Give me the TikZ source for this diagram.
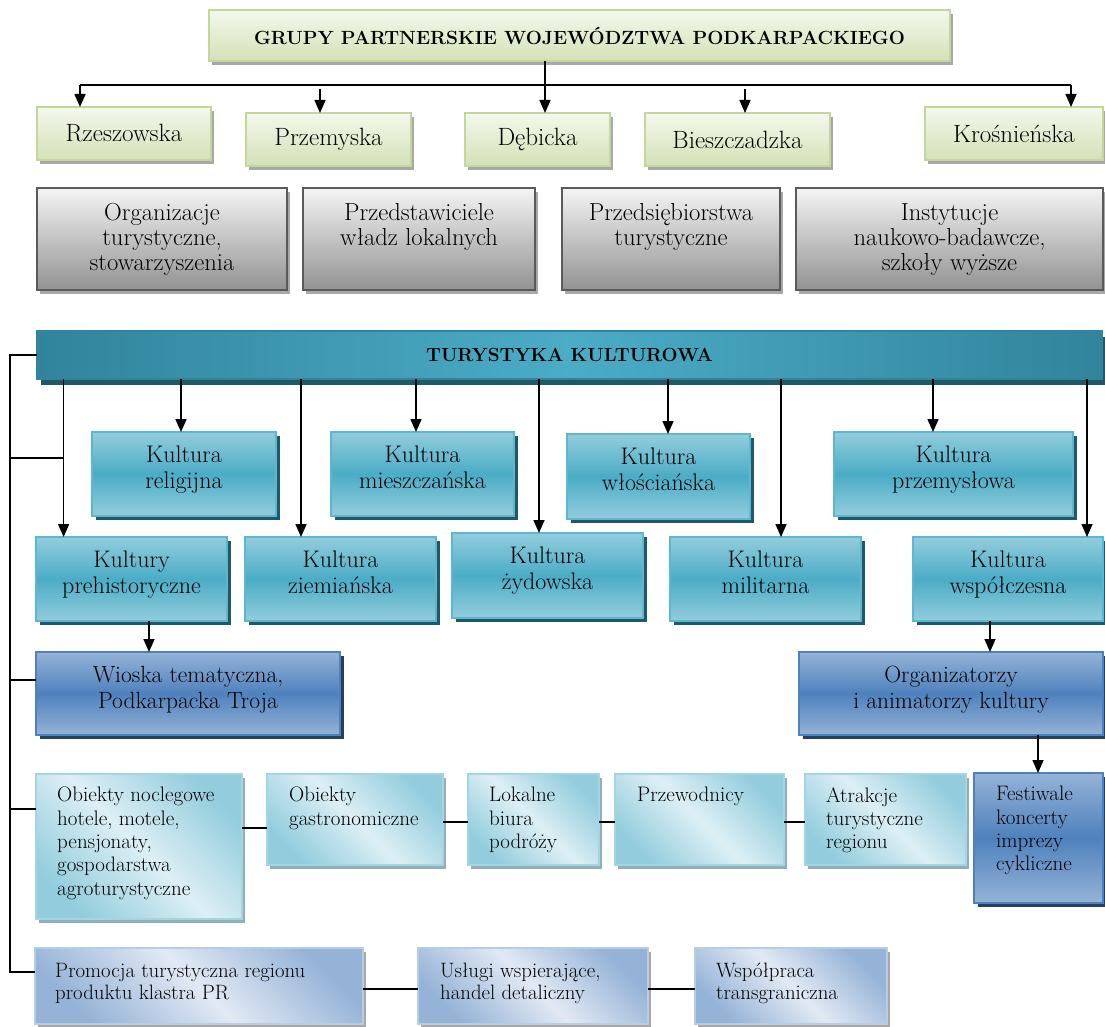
\documentclass[tikz,border=0pt]{standalone}
\usetikzlibrary{shadows,arrows.meta}
\definecolor{grnB}{HTML}{C3D69B}
\definecolor{grnT}{HTML}{F4F8EC}
\definecolor{grnD}{HTML}{D3E1B6}
\definecolor{gryB}{HTML}{5A5A5A}
\definecolor{gryT}{HTML}{F4F4F4}
\definecolor{gryD}{HTML}{929292}
\definecolor{hatch}{HTML}{A8A8A8}
\definecolor{tealL}{HTML}{93CDDD}
\definecolor{tealM}{HTML}{4BACC6}
\definecolor{tealB}{HTML}{5DB7D0}
\definecolor{tealS}{HTML}{215868}
\definecolor{tealK}{HTML}{31849B}
\definecolor{bluL}{HTML}{95B3D7}
\definecolor{bluM}{HTML}{4F81BD}
\definecolor{bluS}{HTML}{243F60}
\definecolor{cyD}{HTML}{93CDDD}
\definecolor{cyL}{HTML}{DDEFF5}
\definecolor{cyB}{HTML}{A5D5E2}
\definecolor{cyS}{HTML}{8FB0B8}
\definecolor{lvD}{HTML}{95B3D7}
\definecolor{lvL}{HTML}{E2E9F4}
\definecolor{lvB}{HTML}{B8CCE4}
\begin{document}
\begin{tikzpicture}[x=1pt,y=1pt,
  box/.style={rectangle, inner sep=0pt, outer sep=0pt, line width=1.5pt},
  grp/.style={box, line width=2pt, draw=grnB, top color=grnT, bottom color=grnD,
    drop shadow={shadow xshift=3pt, shadow yshift=-4pt, fill=hatch, opacity=1},
    font=\fontsize{25}{29}\selectfont},
  gbox/.style={box, line width=2.2pt, draw=gryB, top color=gryT, bottom color=gryD,
    drop shadow={shadow xshift=3pt, shadow yshift=-4pt, fill=hatch, opacity=1}},
  gtxt/.style={anchor=north, align=center, inner sep=0pt, font=\fontsize{24.6}{25}\selectfont},
  banner/.style={box, draw=tealK, left color=tealK, right color=tealK, middle color=tealM,
    drop shadow={shadow xshift=4pt, shadow yshift=-6pt, fill=tealS, opacity=1},
    font=\bfseries\fontsize{19}{22}\selectfont},
  tbox/.style={box, draw=tealB, top color=tealL, bottom color=tealL, middle color=tealM,
    drop shadow={shadow xshift=4pt, shadow yshift=-4pt, fill=tealS, opacity=1}},
  ttxt/.style={anchor=north, align=center, inner sep=0pt, font=\fontsize{24}{26}\selectfont},
  bbox/.style={box, draw=bluM, top color=bluL, bottom color=bluL, middle color=bluM,
    drop shadow={shadow xshift=4pt, shadow yshift=-4pt, fill=bluS, opacity=1}},
  btxt/.style={anchor=north, align=center, inner sep=0pt, font=\fontsize{23.5}{26}\selectfont},
  cbox/.style={box, draw=cyB, top color=cyD, bottom color=cyD, middle color=cyL, shading angle=-45,
    drop shadow={shadow xshift=3pt, shadow yshift=-4pt, fill=cyS, opacity=1}},
  lbox/.style={box, draw=lvB, top color=lvD, bottom color=lvD, middle color=lvL, shading angle=-45,
    drop shadow={shadow xshift=3pt, shadow yshift=-4pt, fill=hatch, opacity=1}},
  ctxt/.style={anchor=north west, align=left, inner sep=0pt, font=\fontsize{21}{23.3}\selectfont},
  ltxt/.style={anchor=north west, align=left, inner sep=0pt, font=\fontsize{20.8}{22}\selectfont},
  conn/.style={line width=1.6pt, black},
  arr/.style={line width=1.6pt, black, -{Triangle[length=13pt,width=11pt]}}
]
\useasboundingbox (0,0) rectangle (1105,-1027);

% ---- top section
\node[grp, minimum width=741, minimum height=51, font=\bfseries\fontsize{19.1}{22}\selectfont] (title) at (579.5,-35.5) {GRUPY PARTNERSKIE WOJEWÓDZTWA PODKARPACKIEGO};
\node[grp, minimum width=174, minimum height=53] (rze) at (124,-133.5) {Rzeszowska};
\node[grp, minimum width=165, minimum height=53] (prz) at (328.5,-139.5) {Przemyska};
\node[grp, minimum width=145, minimum height=53] (deb) at (537.5,-139.5) {Dębicka};
\node[grp, minimum width=185, minimum height=53] (bie) at (737.5,-139.5) {Bieszczadzka};
\node[grp, minimum width=178, minimum height=53] (kro) at (1014,-133.5) {Krośnieńska};

\node[gbox, minimum width=250, minimum height=102] (org) at (162,-239) {};
\node[gbox, minimum width=232, minimum height=102] (prd) at (419,-239) {};
\node[gbox, minimum width=218, minimum height=102] (prs) at (671,-239) {};
\node[gbox, minimum width=307, minimum height=102] (ins) at (949.5,-239) {};
\node[gtxt] (orgT) at ([yshift=-15.5pt]org.north) {Organizacje\\turystyczne,\\stowarzyszenia};
\node[gtxt] (prdT) at ([yshift=-15.5pt]prd.north) {Przedstawiciele\\władz lokalnych};
\node[gtxt] (prsT) at ([yshift=-15.5pt]prs.north) {Przedsiębiorstwa\\turystyczne};
\node[gtxt] (insT) at ([yshift=-15.5pt]ins.north) {Instytucje\\naukowo-badawcze,\\szkoły wyższe};

\coordinate (tj) at (545,-85);
\coordinate (bl) at (80,-85);
\coordinate (br) at (1071,-85);
\coordinate (pa) at (320,-89);
\coordinate (ba) at (745,-89);
\draw[conn] (title.south -| tj) -- (tj);
\draw[conn] (bl) -- (br);
\draw[arr] (bl) -- (bl |- rze.north);
\draw[arr] (tj) -- (tj |- deb.north);
\draw[arr] (br) -- (br |- kro.north);
\draw[arr] (pa) -- (pa |- prz.north);
\draw[arr] (ba) -- (ba |- bie.north);

% ---- cultural tourism
\node[banner, minimum width=1065, minimum height=48] (bann) at (569.5,-355) {TURYSTYKA KULTUROWA};

\node[tbox, minimum width=184, minimum height=84] (rel) at (184,-474) {};
\node[tbox, minimum width=183, minimum height=84] (mie) at (422.5,-474) {};
\node[tbox, minimum width=183, minimum height=85] (wlo) at (658.5,-476.5) {};
\node[tbox, minimum width=239, minimum height=84] (prm) at (953.5,-474) {};
\node[tbox, minimum width=191, minimum height=84] (pre) at (131.5,-579) {};
\node[tbox, minimum width=191, minimum height=84] (zie) at (340.5,-579) {};
\node[tbox, minimum width=191, minimum height=85] (zyd) at (547.5,-575.5) {};
\node[tbox, minimum width=191, minimum height=84] (mil) at (765.5,-579) {};
\node[tbox, minimum width=190, minimum height=84] (wsp) at (1008,-579) {};
\node[ttxt] (relT) at ([yshift=-13.5pt]rel.north) {Kultura\\religijna};
\node[ttxt] (mieT) at ([yshift=-13.5pt]mie.north) {Kultura\\mieszczańska};
\node[ttxt] (wloT) at ([yshift=-13.5pt]wlo.north) {Kultura\\włościańska};
\node[ttxt] (prmT) at ([yshift=-13.5pt]prm.north) {Kultura\\przemysłowa};
\node[ttxt] (preT) at ([yshift=-13.5pt]pre.north) {Kultury\\prehistoryczne};
\node[ttxt] (zieT) at ([yshift=-13.5pt]zie.north) {Kultura\\ziemiańska};
\node[ttxt] (zydT) at ([yshift=-13.5pt]zyd.north) {Kultura\\żydowska};
\node[ttxt] (milT) at ([yshift=-13.5pt]mil.north) {Kultura\\militarna};
\node[ttxt] (wspT) at ([yshift=-13.5pt]wsp.north) {Kultura\\współczesna};

\node[bbox, minimum width=304, minimum height=83] (wio) at (188,-693.5) {};
\node[bbox, minimum width=304, minimum height=83] (ani) at (951,-693.5) {};
\node[btxt] (wioT) at ([yshift=-14pt]wio.north) {Wioska tematyczna,\\Podkarpacka Troja};
\node[btxt] (aniT) at ([yshift=-14pt]ani.north) {Organizatorzy\\i animatorzy kultury};
\node[bbox, minimum width=129, minimum height=130] (fes) at (1038.5,-838) {};
\node[ctxt] (fesT) at ([xshift=22pt,yshift=-13pt]fes.north west) {Festiwale\\koncerty\\imprezy\\cykliczne};

\coordinate (k1) at (63.6,0);
\coordinate (k2) at (181,0);
\coordinate (k3) at (301,0);
\coordinate (k4) at (416,0);
\coordinate (k5) at (539,0);
\coordinate (k6) at (668,0);
\coordinate (k7) at (781,0);
\coordinate (k8) at (933,0);
\coordinate (k9) at (1087,0);
\coordinate (k10) at (149,0);
\coordinate (k11) at (990,0);
\coordinate (k12) at (1038,0);
\draw[arr] (bann.south -| k1) -- (pre.north -| k1);
\draw[arr] (bann.south -| k2) -- (rel.north -| k2);
\draw[arr] (bann.south -| k3) -- (zie.north -| k3);
\draw[arr] (bann.south -| k4) -- (mie.north -| k4);
\draw[arr] (bann.south -| k5) -- (zyd.north -| k5);
\draw[arr] (bann.south -| k6) -- (wlo.north -| k6);
\draw[arr] (bann.south -| k7) -- (mil.north -| k7);
\draw[arr] (bann.south -| k8) -- (prm.north -| k8);
\draw[arr] (bann.south -| k9) -- (wsp.north -| k9);
\draw[arr] (pre.south -| k10) -- (wio.north -| k10);
\draw[arr] (wsp.south -| k11) -- (ani.north -| k11);
\draw[arr] (ani.south -| k12) -- (fes.north -| k12);

% ---- services row
\node[cbox, minimum width=206, minimum height=145] (obn) at (139,-846.5) {};
\node[cbox, minimum width=176, minimum height=91] (gas) at (355,-819.5) {};
\node[cbox, minimum width=131, minimum height=91] (lok) at (533.5,-819.5) {};
\node[cbox, minimum width=169, minimum height=91] (prw) at (699.5,-819.5) {};
\node[cbox, minimum width=161, minimum height=91] (atr) at (885.5,-819.5) {};
\node[ctxt] (obnT) at ([xshift=21pt,yshift=-13pt]obn.north west) {Obiekty noclegowe\\hotele, motele,\\pensjonaty,\\gospodarstwa\\agroturystyczne};
\node[ctxt] (gasT) at ([xshift=22pt,yshift=-13pt]gas.north west) {Obiekty\\gastronomiczne};
\node[ctxt] (lokT) at ([xshift=21pt,yshift=-13pt]lok.north west) {Lokalne\\biura\\podróży};
\node[ctxt] (prwT) at ([xshift=22pt,yshift=-13pt]prw.north west) {Przewodnicy};
\node[ctxt] (atrT) at ([xshift=21pt,yshift=-13pt]atr.north west) {Atrakcje\\turystyczne\\regionu};

\node[lbox, minimum width=328, minimum height=76] (pro) at (199,-986) {};
\node[lbox, minimum width=230, minimum height=76] (usl) at (533,-986) {};
\node[lbox, minimum width=192, minimum height=76] (wpr) at (791,-986) {};
\node[ltxt] (proT) at ([xshift=20pt,yshift=-15pt]pro.north west) {Promocja turystyczna regionu\\produktu klastra PR};
\node[ltxt] (uslT) at ([xshift=22pt,yshift=-15pt]usl.north west) {Usługi wspierające,\\handel detaliczny};
\node[ltxt] (wprT) at ([xshift=21pt,yshift=-15pt]wpr.north west) {Współpraca\\transgraniczna};

\coordinate (h1) at (0,-828);
\coordinate (h2) at (0,-822);
\coordinate (h3) at (0,-989);
\draw[conn] (obn.east |- h1) -- (gas.west |- h1);
\draw[conn] (gas.east |- h2) -- (lok.west |- h2);
\draw[conn] (lok.east |- h2) -- (prw.west |- h2);
\draw[conn] (prw.east |- h2) -- (atr.west |- h2);
\draw[conn] (pro.east |- h3) -- (usl.west |- h3);
\draw[conn] (usl.east |- h3) -- (wpr.west |- h3);

% ---- left bus
\coordinate (lt) at (10,-355);
\coordinate (lb) at (10,-972);
\coordinate (l2) at (10,-458);
\coordinate (l3) at (10,-680);
\coordinate (l4) at (10,-809);
\draw[conn] (bann.west) -- (lt) -- (lb) -- (lb -| pro.west);
\draw[conn] (l2) -- (l2 -| k1);
\draw[conn] (l3) -- (l3 -| wio.west);
\draw[conn] (l4) -- (l4 -| obn.west);
\end{tikzpicture}
\end{document}
